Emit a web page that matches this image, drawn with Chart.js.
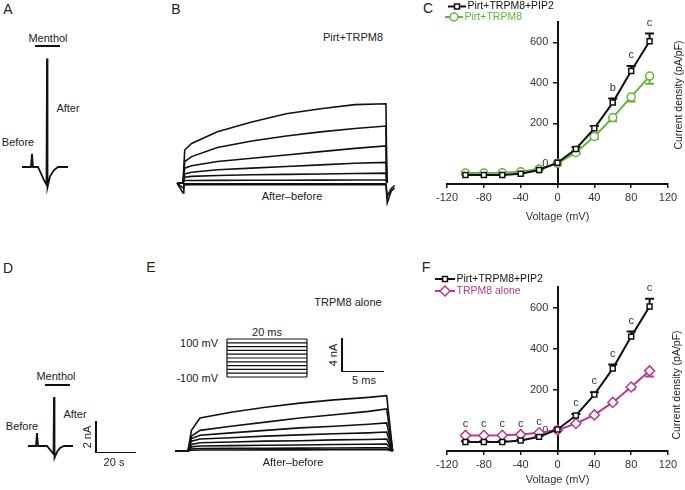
<!DOCTYPE html>
<html>
<head>
<meta charset="utf-8">
<script src="https://cdn.jsdelivr.net/npm/chart.js@4.4.0/dist/chart.umd.min.js"></script>
<style>
  body { margin: 0; width: 685px; height: 490px; background: #fff; position: relative; overflow: hidden;
         font-family: "Liberation Sans", Arial, sans-serif; color: #222; }
  canvas { position: absolute; }
  .t { position: absolute; white-space: nowrap; line-height: 1; transform: translate(-50%, -50%); font-size: 11px; }
  .r { transform: translate(-100%, -50%); }
  .rot { transform: translate(-50%, -50%) rotate(-90deg); }
  .lab { font-size: 14px; }
  .bar { position: absolute; background: #111; }
</style>
</head>
<body>
<!-- panel letters -->
<div class="t lab" style="left:8px;top:9px">A</div>
<div class="t lab" style="left:176px;top:9px">B</div>
<div class="t lab" style="left:428px;top:8px">C</div>
<div class="t lab" style="left:8px;top:268px">D</div>
<div class="t lab" style="left:151px;top:267px">E</div>
<div class="t lab" style="left:426px;top:267px">F</div>

<!-- A -->
<div class="t" style="left:48px;top:38px">Menthol</div>
<div class="bar" style="left:35px;top:45px;width:25px;height:2px"></div>
<div class="t" style="left:68px;top:108px">After</div>
<div class="t" style="left:18px;top:142px">Before</div>
<canvas id="cA" width="70" height="145" style="left:10px;top:50px"></canvas>

<!-- B -->
<div class="t" style="left:353px;top:37px">Pirt+TRPM8</div>
<div class="t" style="left:292px;top:196px">After–before</div>
<canvas id="cB" width="230" height="125" style="left:170px;top:90px"></canvas>

<!-- D -->
<div class="t" style="left:56px;top:376px">Menthol</div>
<div class="bar" style="left:45px;top:384px;width:25px;height:2px"></div>
<div class="t" style="left:75px;top:414px">After</div>
<div class="t" style="left:22px;top:426px">Before</div>
<canvas id="cD" width="70" height="80" style="left:15px;top:385px"></canvas>
<div class="bar" style="left:95px;top:421px;width:1.5px;height:32px"></div>
<div class="bar" style="left:95px;top:451.5px;width:41px;height:1.5px"></div>
<div class="t rot" style="left:87px;top:437px">2 nA</div>
<div class="t" style="left:114px;top:462px">20 s</div>

<!-- E -->
<div class="t" style="left:348px;top:302px">TRPM8 alone</div>
<div class="t" style="left:267px;top:332px">20 ms</div>
<div class="t r" style="left:218px;top:343px">100 mV</div>
<div class="t r" style="left:218px;top:378px">-100 mV</div>
<canvas id="cP" width="95" height="55" style="left:220px;top:330px"></canvas>
<div class="bar" style="left:341px;top:338px;width:1.5px;height:34px"></div>
<div class="bar" style="left:341px;top:370.5px;width:43px;height:1.5px"></div>
<div class="t rot" style="left:333px;top:355px">4 nA</div>
<div class="t" style="left:364px;top:380px">5 ms</div>
<div class="t" style="left:293px;top:462px">After–before</div>
<canvas id="cE" width="240" height="75" style="left:165px;top:385px"></canvas>

<!-- C, F -->
<canvas id="cC" width="265" height="240" style="left:420px;top:0px"></canvas>
<canvas id="cF" width="265" height="240" style="left:420px;top:250px"></canvas>
<div class="t rot" style="left:678px;top:95px;font-size:10.5px">Current density (pA/pF)</div>
<div class="t rot" style="left:676px;top:385px;font-size:10.5px">Current density (pA/pF)</div>

<script>
// I-V data (mV, pA/pF)
const voltages = [-100, -80, -60, -40, -20, 0, 20, 40, 60, 80, 100];
const pip2 = [-56, -56, -56, -49, -31, 5, 73, 175, 302, 458, 605];
const pip2Sem = [4, 4, 4, 4, 5, 5, 8, 12, 20, 25, 38];
const pirt = [-46, -46, -45, -40, -26, 2, 56, 135, 228, 330, 433];
const pirtSem = [4, 4, 4, 4, 5, 5, 8, 13, 18, 23, 38];
const alone = [-24, -24, -23, -20, -11, 2, 34, 76, 137, 212, 291];
const aloneSem = [3, 3, 3, 3, 4, 4, 5, 6, 8, 12, 27];
const sigC = ['', '', '', '', '', '', '', '', 'b', 'c', 'c'];
const sigF = ['c', 'c', 'c', 'c', 'c', '', 'c', 'c', 'c', 'c', 'c'];
const xTicks = [-120, -80, -40, 0, 40, 80, 120];
const yTicks = [0, 200, 400, 600];

// menthol responses (s, nA)
const tA = [0, 4.5, 5, 5.5, 8, 11, 12.25, 12.5, 12.75, 14, 16, 18, 23];
const iA = [0, 0, 0.85, 0, 0, -0.85, -1.15, 7.0, -1.3, -0.6, -0.2, 0, 0];
const tD = [0, 4, 4.5, 5, 9.5, 11.5, 12.75, 13, 13.25, 14.5, 16, 18, 22.5];
const iD = [0, 0, 0.84, 0, 0, -0.32, -0.52, 3.16, -0.77, -0.39, -0.13, 0, 0];

// current families, after-before (ms, nA)
const tB = [-0.7, 0, 0.2, 1, 4, 8, 12, 16, 20, 23.6, 23.7];
const traceB = [
  [0, 0, 4.0, 4.8, 6.2, 7.4, 8.4, 9.0, 9.5, 9.6, 0],
  [0, 0, 2.6, 3.2, 4.3, 5.1, 5.7, 6.2, 6.6, 6.9, 0],
  [0, 0, 1.8, 2.1, 2.6, 3.0, 3.4, 3.8, 4.2, 4.5, 0],
  [0, 0, 1.1, 1.3, 1.6, 1.8, 2.0, 2.2, 2.4, 2.5, 0],
  [0, 0, 0.7, 0.8, 0.9, 1.0, 1.05, 1.1, 1.15, 1.2, 0],
  [0, 0, 0.3, 0.3, 0.32, 0.33, 0.34, 0.35, 0.36, 0.36, 0]
];
const tBtail = [-0.7, 0, 0.1, 1, 23.6, 23.75, 24.2, 24.6];
const tailB = [
  [0, -1.2, -0.1, -0.1, -0.1, -2.4, -1.0, -0.6],
  [0, -0.6, -0.25, -0.2, -0.2, -1.6, -0.7, -0.3]
];
const tE = [-1.5, 0, 0.4, 1.4, 5, 9, 13, 17, 21, 23.1, 23.8];
const traceE = [
  [0, 0, 2.5, 4.0, 4.7, 5.3, 5.8, 6.2, 6.5, 6.7, 0],
  [0, 0, 1.8, 2.5, 3.0, 3.5, 4.0, 4.4, 4.8, 5.1, 0],
  [0, 0, 1.5, 1.9, 2.2, 2.5, 2.8, 3.0, 3.25, 3.4, 0],
  [0, 0, 1.2, 1.45, 1.6, 1.8, 1.95, 2.1, 2.2, 2.3, 0],
  [0, 0, 0.8, 1.0, 1.1, 1.2, 1.25, 1.35, 1.4, 1.45, 0],
  [0, 0, 0.5, 0.6, 0.65, 0.7, 0.72, 0.78, 0.82, 0.85, 0],
  [0, 0, 0.25, 0.3, 0.32, 0.34, 0.35, 0.37, 0.38, 0.4, 0],
  [0, 0, 0.1, 0.12, 0.13, 0.14, 0.14, 0.15, 0.15, 0.15, 0]
];

// voltage protocol
const stepLevels = [-100, -80, -60, -40, -20, 0, 20, 40, 60, 80, 100];
const stepTimes = [0, 20];

const FONT = '"Liberation Sans", Arial, sans-serif';
const INK = '#111';

// hidden-axis trace plot; box/origin in page px, k = px per unit
function traceChart(id, box, origin, k, sets, lw) {
  const [L, T, W, H] = box;
  const [x0, y0] = origin;
  return new Chart(document.getElementById(id), {
    type: 'line',
    data: {
      datasets: sets.map(s => ({
        data: s.t.map((t, i) => ({ x: t, y: s.v[i] })),
        borderColor: INK, borderWidth: lw, pointRadius: 0, tension: 0, fill: false
      }))
    },
    options: {
      responsive: false, animation: false, events: [],
      layout: { padding: 0 },
      plugins: { legend: { display: false }, tooltip: { enabled: false } },
      scales: {
        x: { type: 'linear', display: false, min: (L - x0) / k[0], max: (L + W - x0) / k[0] },
        y: { type: 'linear', display: false, min: -(T + H - y0) / k[1], max: (y0 - T) / k[1] }
      }
    }
  });
}

traceChart('cA', [10, 50, 70, 145], [22, 167], [2, 15.5], [{ t: tA, v: iA }], 1.8);
traceChart('cD', [15, 385, 70, 80], [28, 446], [2, 15.5], [{ t: tD, v: iD }], 1.8);
traceChart('cB', [170, 90, 230, 125], [183, 183], [8.6, 8.25],
  traceB.map(v => ({ t: tB, v })).concat(tailB.map(v => ({ t: tBtail, v }))), 1.6);
traceChart('cE', [165, 385, 240, 75], [188, 451], [8.6, 8.25],
  traceE.map(v => ({ t: tE, v })), 1.6);

// step protocol box
const protoSets = stepLevels.map(v => ({ t: stepTimes, v: stepTimes.map(() => v) }));
protoSets.push({ t: [stepTimes[0], stepTimes[0]], v: [stepLevels[0], stepLevels[stepLevels.length - 1]] });
protoSets.push({ t: [stepTimes[1], stepTimes[1]], v: [stepLevels[0], stepLevels[stepLevels.length - 1]] });
traceChart('cP', [220, 330, 95, 55], [227, 358], [4, 0.19], protoSets, 1.2);

// error bars, letters and legend for the I-V plots
const ivExtras = {
  id: 'ivExtras',
  beforeDatasetsDraw(chart, args, opts) {
    const { ctx, scales: { x, y } } = chart;
    ctx.save();
    opts.bars.forEach(b => {
      const ds = chart.data.datasets[b.ds];
      ctx.strokeStyle = ds.borderColor;
      ctx.lineWidth = 2;
      ds.data.forEach((p, i) => {
        const px = x.getPixelForValue(p.x);
        const py = y.getPixelForValue(p.y);
        const pe = y.getPixelForValue(p.y + b.dir * b.sem[i]);
        ctx.beginPath();
        ctx.moveTo(px, py); ctx.lineTo(px, pe);
        ctx.moveTo(px - 4.5, pe); ctx.lineTo(px + 4.5, pe);
        ctx.stroke();
      });
    });
    ctx.restore();
  },
  afterDraw(chart, args, opts) {
    const { ctx, scales: { x, y } } = chart;
    ctx.save();
    ctx.font = '11px ' + FONT;
    ctx.fillStyle = '#333';
    ctx.textAlign = 'center';
    ctx.textBaseline = 'middle';
    opts.sig.forEach((s, i) => {
      if (!s) return;
      let top = Infinity;
      opts.bars.forEach(b => {
        const p = chart.data.datasets[b.ds].data[i];
        top = Math.min(top, y.getPixelForValue(p.y + Math.max(b.dir, 0) * b.sem[i]));
      });
      ctx.fillText(s, x.getPixelForValue(voltages[i]), top - 11);
    });
    // legend: line with marker
    opts.legend.forEach(it => {
      const ds = chart.data.datasets[it.ds];
      ctx.strokeStyle = ds.borderColor;
      ctx.lineWidth = 2;
      ctx.beginPath(); ctx.moveTo(it.x0, it.y); ctx.lineTo(it.x1, it.y); ctx.stroke();
      ctx.fillStyle = '#fff';
      ctx.lineWidth = 1.5;
      Chart.helpers.drawPoint(ctx, { pointStyle: ds.pointStyle, radius: ds.pointRadius, rotation: 0, borderWidth: 1.5 }, (it.x0 + it.x1) / 2, it.y);
      ctx.font = '10.5px ' + FONT;
      ctx.fillStyle = it.color;
      ctx.textAlign = 'left';
      ctx.fillText(ds.label, it.x1 + 1.5, it.y);
    });
    ctx.restore();
  }
};

function series(label, vals, color, style, r) {
  return {
    label, data: vals.map((v, i) => ({ x: voltages[i], y: v })),
    borderColor: color, borderWidth: 2, tension: 0,
    pointStyle: style, pointRadius: r, pointBorderWidth: 1.5,
    pointBackgroundColor: '#fff', pointBorderColor: color
  };
}

function ivChart(id, sets, bars, sig, legend, padTop, xh, titlePad) {
  const tickFont = { size: 11, family: FONT };
  const axisGrid = { drawOnChartArea: false, drawTicks: true, tickLength: 4, color: INK, lineWidth: 1.5 };
  return new Chart(document.getElementById(id), {
    type: 'line',
    data: { datasets: sets },
    options: {
      responsive: false, animation: false, events: [],
      layout: { padding: { left: 27, right: 17, top: padTop, bottom: 0 } },
      plugins: {
        legend: { display: false }, tooltip: { enabled: false },
        ivExtras: { bars, sig, legend }
      },
      scales: {
        x: {
          type: 'linear', position: 'bottom', min: -120, max: 120,
          afterBuildTicks: s => { s.ticks = xTicks.map(v => ({ value: v })); },
          afterFit: s => { s.height = xh; },
          grid: axisGrid,
          border: { display: true, color: INK, width: 2 },
          ticks: { maxRotation: 0, color: '#333', font: tickFont, padding: 3 },
          title: { display: true, text: 'Voltage (mV)', color: '#333', font: tickFont, padding: { top: 0, bottom: titlePad } }
        },
        y: {
          type: 'linear', position: { x: 0 }, min: -100, max: 700,
          afterBuildTicks: s => { s.ticks = yTicks.map(v => ({ value: v })); },
          grid: axisGrid,
          border: { display: true, color: INK, width: 2 },
          // a centred axis puts its labels flush on the line, so pad them with spaces
          ticks: { color: '#333', font: tickFont, callback: v => v + '   ' }
        }
      }
    },
    plugins: [ivExtras]
  });
}

const GREEN = '#66b33c';
const MAGENTA = '#b53a90';

ivChart('cC',
  [series('Pirt+TRPM8+PIP2', pip2, INK, 'rect', 3.5), series('Pirt+TRPM8', pirt, GREEN, 'circle', 4)],
  [{ ds: 0, sem: pip2Sem, dir: 1 }, { ds: 1, sem: pirtSem, dir: -1 }],
  sigC,
  [{ ds: 0, x0: 28, x1: 46, y: 6.5, color: INK }, { ds: 1, x0: 25, x1: 43, y: 17, color: GREEN }],
  22, 56, 16);

ivChart('cF',
  [series('Pirt+TRPM8+PIP2', pip2, INK, 'rect', 3.5), series('TRPM8 alone', alone, MAGENTA, 'rectRot', 5)],
  [{ ds: 0, sem: pip2Sem, dir: 1 }, { ds: 1, sem: aloneSem, dir: -1 }],
  sigF,
  [{ ds: 0, x0: 15, x1: 35, y: 29, color: INK }, { ds: 1, x0: 15, x1: 35, y: 41, color: MAGENTA }],
  37, 39, 3);
</script>
</body>
</html>
